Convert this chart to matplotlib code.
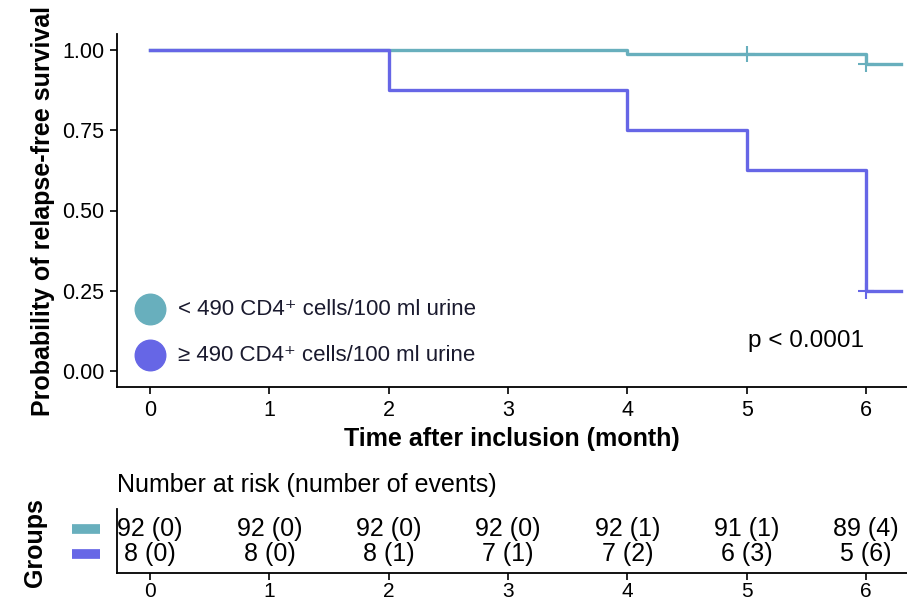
import matplotlib
matplotlib.use('Agg')
import matplotlib.pyplot as plt

plt.rcParams['font.family'] = ['Liberation Sans', 'DejaVu Sans']

# Kaplan-Meier step curves (months, survival probability)
low_times = [0, 4, 6, 6.29]
low_surv = [1.0, 0.989, 0.956, 0.956]
high_times = [0, 2, 4, 5, 6, 6.29]
high_surv = [1.0, 0.875, 0.75, 0.625, 0.25, 0.25]

# censoring marks
low_cens_t = [5, 6]
low_cens_s = [0.989, 0.956]
high_cens_t = [6]
high_cens_s = [0.25]

group_labels = ['< 490 CD4\u207a cells/100 ml urine', '\u2265 490 CD4\u207a cells/100 ml urine']
colors = ['#68AFBD', '#6666E6']

# risk table
risk_times = [0, 1, 2, 3, 4, 5, 6]
low_risk = ['92 (0)', '92 (0)', '92 (0)', '92 (0)', '92 (1)', '91 (1)', '89 (4)']
high_risk = ['8 (0)', '8 (0)', '8 (1)', '7 (1)', '7 (2)', '6 (3)', '5 (6)']
p_text = 'p < 0.0001'

W, H = 907, 606
fig = plt.figure(figsize=(9.07, 6.06), dpi=100)

def box(x0, y0, x1, y1):
    return [x0 / W, 1 - y1 / H, (x1 - x0) / W, (y1 - y0) / H]

xlim = (-0.277, 6.343)

ax = fig.add_axes(box(117, 34, 907, 387))
ax.step(low_times, low_surv, where='post', color=colors[0], lw=2.4)
ax.step(high_times, high_surv, where='post', color=colors[1], lw=2.4)
ax.plot(low_cens_t, low_cens_s, '+', color=colors[0], ms=11, mew=1.5)
ax.plot(high_cens_t, high_cens_s, '+', color=colors[1], ms=11, mew=1.5)
ax.set_xlim(*xlim)
ax.set_ylim(-0.05, 1.05)
ax.set_xticks(risk_times)
ax.set_yticks([0, 0.25, 0.5, 0.75, 1.0])
ax.set_yticklabels(['0.00', '0.25', '0.50', '0.75', '1.00'])
ax.tick_params(labelsize=15.5, colors='black', length=5, width=1.2, pad=4)
for s in ['top', 'right']:
    ax.spines[s].set_visible(False)
for s in ['left', 'bottom']:
    ax.spines[s].set_linewidth(1.3)
ax.set_xlabel('Time after inclusion (month)', fontsize=18, fontweight='bold', labelpad=5)
ax.set_ylabel('Probability of relapse-free survival', fontsize=18, fontweight='bold', labelpad=5)
ax.text(5.5, 0.093, p_text, fontsize=17.5, ha='center', va='center')

# legend: filled circles with labels
for yf, lab, c in zip([0.2203, 0.0904], group_labels, colors):
    ax.plot(0.0418, yf, 'o', ms=22, color=c, transform=ax.transAxes, clip_on=False)
    ax.text(0.0772, yf, lab, fontsize=16, ha='left', va='center', transform=ax.transAxes,
            color='#1a1a2e')

# number at risk table
tx = fig.add_axes(box(117, 509, 907, 573))
for x, a, b in zip(risk_times, low_risk, high_risk):
    tx.text(x, 2, a, ha='center', va='center', fontsize=18)
    tx.text(x, 1, b, ha='center', va='center', fontsize=18)
tx.set_xlim(*xlim)
tx.set_ylim(0.24, 2.8)
tx.set_xticks(risk_times)
tx.set_yticks([])
tx.tick_params(labelsize=15, colors='black', length=5, width=1.2, pad=1.5)
for s in ['top', 'right']:
    tx.spines[s].set_visible(False)
for s in ['left', 'bottom']:
    tx.spines[s].set_linewidth(1.3)
tr = tx.get_yaxis_transform()
for yv, c in zip([2, 1], colors):
    tx.plot([-0.057, -0.0215], [yv, yv], color=c, lw=7, transform=tr, clip_on=False,
            solid_capstyle='butt')
tx.text(0.0, 1.375, 'Number at risk (number of events)', transform=tx.transAxes,
        fontsize=18, ha='left', va='center')
fig.text(35 / W, 1 - 543 / H, 'Groups', rotation=90, fontsize=18, fontweight='bold',
         ha='center', va='center')

fig.savefig('out.png', dpi=100)
